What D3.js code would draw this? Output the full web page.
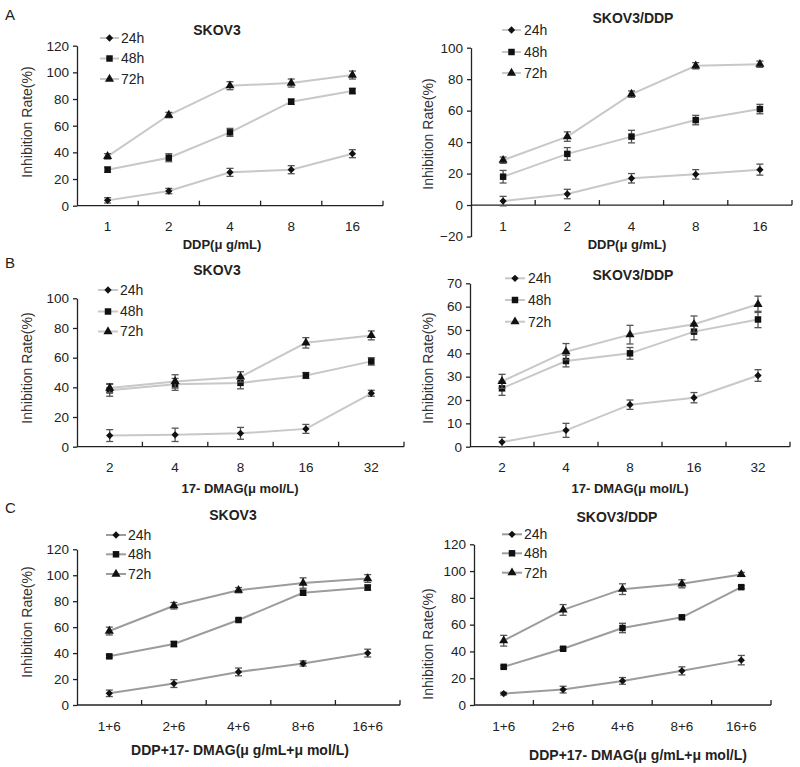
<!DOCTYPE html>
<html lang="en">
<head>
  <meta charset="utf-8">
  <title>Inhibition rate</title>
  <style>
    body {
      margin: 0;
      background: #fff;
      font-family: "Liberation Sans", Arial, sans-serif;
    }
    .axis path, .axis line { stroke: #222; stroke-width: 1.3px; }
    .axis text { font-size: 13.5px; fill: #222; }
  </style>
</head>
<body>
  <div id="graphic"></div>

  <script src="https://cdnjs.cloudflare.com/ajax/libs/d3/7.8.5/d3.min.js"></script>
  <script>
    // categories
    var seriesNames = ["24h", "48h", "72h"];
    var dosesDDP = ["1", "2", "4", "8", "16"];
    var doses17 = ["2", "4", "8", "16", "32"];
    var dosesCombo = ["1+6", "2+6", "4+6", "8+6", "16+6"];

    // values: one row per series (24h, 48h, 72h)
    var ddpSkov3 = [[4, 11, 25, 27, 39], [27, 36, 55, 78, 86], [37, 68, 90, 92, 98]];
    var ddpSkov3Err = [[2, 2, 3, 3, 3], [2, 3, 3, 2, 2], [2, 2, 3, 3, 3]];
    var ddpSkovDdp = [[2.5, 7, 17, 19.5, 22.5], [18, 32.5, 43.5, 54, 61], [28.5, 43.5, 70.5, 88.5, 89.5]];
    var ddpSkovDdpErr = [[3, 3, 3, 3, 3.5], [4, 4, 4, 3, 3], [2, 3, 2, 2, 2]];

    var dmagSkov3 = [[7.5, 8, 9, 12, 36], [38, 42, 43, 48, 57.5], [39.5, 44, 47, 70, 75]];
    var dmagSkov3Err = [[4, 4.5, 4, 3, 2], [4, 4, 4, 2, 2.5], [3, 4.5, 3.5, 3.5, 3]];
    var dmagSkovDdp = [[2, 7, 18, 21, 30.5], [25, 36.7, 40, 49.3, 54.5], [28, 40.7, 48, 52.5, 61]];
    var dmagSkovDdpErr = [[2, 3, 2, 2.2, 2.5], [3, 2.5, 2.5, 3.5, 3.5], [3, 3.5, 4, 3.5, 3.5]];

    var comboSkov3 = [[9, 16.5, 25.5, 32, 40], [37.5, 47, 65.5, 86.5, 90.5], [57, 76.5, 88.5, 94, 97.5]];
    var comboSkov3Err = [[2.5, 3, 3, 2, 3], [1, 2, 1, 2, 2], [3, 2.5, 2, 4, 3]];
    var comboSkovDdp = [[8.5, 11.5, 18, 25.5, 33.5], [28.5, 42, 57.5, 65.5, 88], [48, 71, 86.5, 90.5, 97.5]];
    var comboSkovDdpErr = [[1, 2.5, 2.5, 3, 3.5], [1, 1, 3.5, 1, 1], [4, 4, 4, 3, 1.5]];

    var yTitle = "Inhibition Rate(%)";

    var panels = [
      { letter: "A", letterY: 15, title: "SKOV3", cats: dosesDDP, values: ddpSkov3, errors: ddpSkov3Err,
        xTitle: "DDP(\u03bc g/mL)", domain: [0, 120], step: 20,
        left: 77, right: 383, top: 45.7, bottom: 205.7,
        titlePos: [217, 30], xTitlePos: [222, 244], xTitleSize: 13, yTitlePos: [27, 122],
        legend: { x0: 100, x1: 119, tx: 121, rows: [38, 58.5, 79] }, lineColor: "#c8c8c8" },
      { title: "SKOV3/DDP", cats: dosesDDP, values: ddpSkovDdp, errors: ddpSkovDdpErr,
        xTitle: "DDP(\u03bc g/mL)", domain: [-20, 100], step: 20,
        left: 471, right: 792, top: 47.7, bottom: 236.5,
        titlePos: [633, 18], xTitlePos: [627, 244], xTitleSize: 13, yTitlePos: [428, 134],
        legend: { x0: 502, x1: 521, tx: 524, rows: [30, 52, 73] }, lineColor: "#c8c8c8" },
      { letter: "B", letterY: 263, title: "SKOV3", cats: doses17, values: dmagSkov3, errors: dmagSkov3Err,
        xTitle: "17- DMAG(\u03bc mol/L)", domain: [0, 100], step: 20,
        left: 77, right: 404, top: 298.3, bottom: 446.7,
        titlePos: [217, 270], xTitlePos: [240, 488], xTitleSize: 13, yTitlePos: [27, 368],
        legend: { x0: 98, x1: 118, tx: 120, rows: [290, 311.5, 331.5] }, lineColor: "#c8c8c8" },
      { title: "SKOV3/DDP", cats: doses17, values: dmagSkovDdp, errors: dmagSkovDdpErr,
        xTitle: "17- DMAG(\u03bc mol/L)", domain: [0, 70], step: 10,
        left: 470, right: 790, top: 283.3, bottom: 446.7,
        titlePos: [633, 275], xTitlePos: [630, 488], xTitleSize: 13, yTitlePos: [428, 368],
        legend: { x0: 505, x1: 525, tx: 528, rows: [278.3, 300, 321.7] }, lineColor: "#c8c8c8" },
      { letter: "C", letterY: 508, title: "SKOV3", cats: dosesCombo, values: comboSkov3, errors: comboSkov3Err,
        xTitle: "DDP+17- DMAG(\u03bc g/mL+\u03bc mol/L)", domain: [0, 120], step: 20,
        left: 77, right: 400, top: 549.3, bottom: 705,
        titlePos: [233, 515], xTitlePos: [240, 750], xTitleSize: 14, yTitlePos: [27, 622],
        legend: { x0: 106, x1: 126, tx: 128, rows: [535, 554.3, 574] }, lineColor: "#9c9c9c" },
      { title: "SKOV3/DDP", cats: dosesCombo, values: comboSkovDdp, errors: comboSkovDdpErr,
        xTitle: "DDP+17- DMAG(\u03bc g/mL+\u03bc mol/L)", domain: [0, 120], step: 20,
        left: 474, right: 771, top: 544.3, bottom: 705,
        titlePos: [617, 517], xTitlePos: [638, 755], xTitleSize: 14, yTitlePos: [428, 644],
        legend: { x0: 502, x1: 522, tx: 524, rows: [534.3, 553.3, 572.7] }, lineColor: "#9c9c9c" }
    ];

    var symbols = [d3.symbolDiamond2, d3.symbolSquare, d3.symbolTriangle];
    var symbolSizes = [34, 42, 36];

    var svg = d3.select("#graphic")
      .append("svg")
      .attr("width", 800)
      .attr("height", 767);

    panels.forEach(drawPanel);

    function drawPanel(p) {
      var g = svg.append("g");

      var x = d3.scaleBand()
        .domain(p.cats)
        .range([p.left, p.right]);

      var y = d3.scaleLinear()
        .domain(p.domain)
        .range([p.bottom, p.top]);

      var cx = function(c) { return x(c) + x.bandwidth() / 2; };

      // y axis
      g.append("g")
        .attr("class", "y axis")
        .attr("transform", "translate(" + p.left + ",0)")
        .call(d3.axisLeft(y)
          .tickValues(d3.range(p.domain[0], p.domain[1] + 1, p.step))
          .tickSize(4)
          .tickSizeOuter(0)
          .tickPadding(4));

      // x axis sits on the zero line, ticks point up between categories
      var xg = g.append("g").attr("class", "x axis");
      xg.append("line")
        .attr("x1", p.left).attr("x2", p.right)
        .attr("y1", y(0)).attr("y2", y(0));
      xg.selectAll("line.tick")
        .data(p.cats)
        .enter().append("line")
        .attr("class", "tick")
        .attr("x1", function(d) { return x(d) + x.step(); })
        .attr("x2", function(d) { return x(d) + x.step(); })
        .attr("y1", y(0)).attr("y2", y(0) - 5);
      xg.selectAll("text")
        .data(p.cats)
        .enter().append("text")
        .attr("x", cx)
        .attr("y", y(0) + 21)
        .attr("dy", "0.35em")
        .attr("text-anchor", "middle")
        .text(function(d) { return d; });

      // series
      var line = d3.line()
        .x(function(d, i) { return cx(p.cats[i]); })
        .y(function(d) { return y(d); });

      p.values.forEach(function(vals, s) {
        g.append("path")
          .datum(vals)
          .attr("d", line)
          .attr("fill", "none")
          .attr("stroke", p.lineColor)
          .attr("stroke-width", 2);

        var pts = vals.map(function(v, i) {
          return { c: p.cats[i], v: v, e: p.errors[s][i] };
        });

        var eb = g.selectAll(null).data(pts).enter().append("g")
          .attr("stroke", "#555")
          .attr("stroke-width", 1.3);
        eb.append("line")
          .attr("x1", function(d) { return cx(d.c); })
          .attr("x2", function(d) { return cx(d.c); })
          .attr("y1", function(d) { return y(d.v - d.e); })
          .attr("y2", function(d) { return y(d.v + d.e); });
        eb.append("line")
          .attr("x1", function(d) { return cx(d.c) - 3.5; })
          .attr("x2", function(d) { return cx(d.c) + 3.5; })
          .attr("y1", function(d) { return y(d.v + d.e); })
          .attr("y2", function(d) { return y(d.v + d.e); });
        eb.append("line")
          .attr("x1", function(d) { return cx(d.c) - 3.5; })
          .attr("x2", function(d) { return cx(d.c) + 3.5; })
          .attr("y1", function(d) { return y(d.v - d.e); })
          .attr("y2", function(d) { return y(d.v - d.e); });

        g.selectAll(null).data(pts).enter().append("path")
          .attr("d", d3.symbol(symbols[s]).size(symbolSizes[s]))
          .attr("transform", function(d) { return "translate(" + cx(d.c) + "," + y(d.v) + ")"; })
          .attr("fill", "#111");
      });

      // legend
      seriesNames.forEach(function(name, s) {
        var ly = p.legend.rows[s];
        g.append("line")
          .attr("x1", p.legend.x0).attr("x2", p.legend.x1)
          .attr("y1", ly).attr("y2", ly)
          .attr("stroke", p.lineColor)
          .attr("stroke-width", 2);
        g.append("path")
          .attr("d", d3.symbol(symbols[s]).size(symbolSizes[s]))
          .attr("transform", "translate(" + (p.legend.x0 + p.legend.x1) / 2 + "," + ly + ")")
          .attr("fill", "#111");
        g.append("text")
          .attr("x", p.legend.tx)
          .attr("y", ly)
          .attr("dy", "0.35em")
          .attr("font-size", "14px")
          .attr("fill", "#222")
          .text(name);
      });

      // titles
      g.append("text")
        .attr("x", p.titlePos[0]).attr("y", p.titlePos[1])
        .attr("dy", "0.35em")
        .attr("text-anchor", "middle")
        .attr("font-size", "14px")
        .attr("font-weight", 700)
        .attr("fill", "#222")
        .text(p.title);

      g.append("text")
        .attr("x", p.xTitlePos[0]).attr("y", p.xTitlePos[1])
        .attr("dy", "0.35em")
        .attr("text-anchor", "middle")
        .attr("font-size", p.xTitleSize + "px")
        .attr("font-weight", 700)
        .attr("fill", "#222")
        .text(p.xTitle);

      g.append("text")
        .attr("transform", "translate(" + p.yTitlePos[0] + "," + p.yTitlePos[1] + ") rotate(-90)")
        .attr("dy", "0.35em")
        .attr("text-anchor", "middle")
        .attr("font-size", "14px")
        .attr("fill", "#333")
        .text(yTitle);

      if (p.letter) {
        g.append("text")
          .attr("x", 5).attr("y", p.letterY)
          .attr("dy", "0.35em")
          .attr("font-size", "15px")
          .attr("fill", "#222")
          .text(p.letter);
      }
    }
  </script>
</body>
</html>
